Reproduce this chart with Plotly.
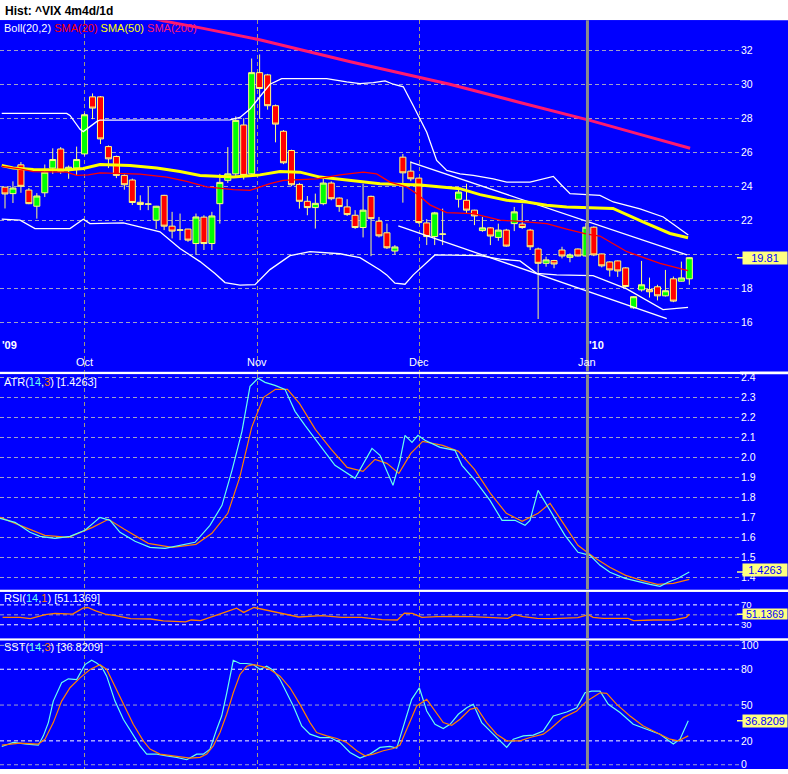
import plotly.graph_objects as go

# ---------------- data (trading-day index; 0 = 17 Sep 2009) ----------------
day = list(range(0, 56)) + list(range(57, 87))
open_ = [23.95, 23.57, 25.26, 23.78, 22.83, 23.62, 25.07, 26.19, 24.93, 25.07,
         25.90, 29.25, 29.25, 26.33, 25.75, 24.64, 24.37, 23.06, 22.95, 22.01,
         23.47, 21.66, 21.42, 21.49, 20.64, 22.19, 20.64, 22.98, 24.35, 24.73,
         27.60, 24.73, 30.67, 30.54, 28.73, 27.23, 26.10, 24.11, 23.12, 22.75,
         22.98, 24.19, 23.31, 22.79, 22.30, 21.58, 23.41, 21.95, 21.27, 20.20,
         25.71, 24.89, 24.48, 21.85, 21.05, 21.18, 23.24, 23.18, 22.60, 21.40,
         21.56, 21.00, 21.43, 21.81, 21.78, 21.43, 20.32, 19.48, 19.64, 20.26,
         19.83, 20.32, 19.91, 21.60, 20.03, 19.56, 19.62, 19.21, 16.87, 17.92,
         17.94, 18.10, 17.57, 18.57, 18.43, 18.57]
high = [23.95, 24.29, 25.42, 23.90, 23.60, 25.28, 26.23, 26.30, 25.22, 26.33,
        28.30, 29.45, 29.30, 26.40, 25.80, 24.70, 24.45, 23.47, 23.96, 22.85,
        23.50, 22.50, 22.40, 21.50, 22.40, 22.30, 22.50, 24.73, 26.30, 28.10,
        28.00, 31.50, 31.74, 30.60, 28.80, 27.30, 26.15, 24.20, 23.43, 23.57,
        24.44, 24.29, 23.35, 23.24, 22.60, 24.15, 23.45, 22.20, 21.81, 20.55,
        25.90, 25.46, 24.50, 22.07, 22.50, 22.69, 23.86, 24.15, 22.62, 22.20,
        21.60, 21.81, 21.50, 22.79, 22.98, 21.50, 20.40, 19.87, 19.68, 20.45,
        20.06, 20.35, 21.85, 21.65, 20.05, 19.60, 19.65, 19.25, 17.55, 19.62,
        18.64, 18.22, 19.09, 18.70, 19.58, 19.85]
low = [22.70, 23.02, 23.62, 22.95, 22.10, 23.37, 24.73, 24.73, 24.44, 24.64,
       25.80, 27.94, 26.48, 25.07, 24.48, 23.80, 22.90, 22.60, 22.60, 21.49,
       21.43, 20.94, 20.84, 20.74, 19.97, 20.26, 20.26, 21.81, 24.20, 24.60,
       24.40, 24.60, 27.99, 28.50, 26.58, 25.30, 24.00, 22.69, 22.30, 21.52,
       22.89, 23.18, 22.50, 22.26, 21.50, 21.00, 19.90, 21.00, 20.32, 20.00,
       23.04, 24.30, 21.80, 20.55, 20.55, 20.55, 22.75, 22.40, 21.72, 21.33,
       20.55, 20.80, 20.45, 21.37, 21.50, 20.26, 16.21, 19.28, 19.19, 19.77,
       19.54, 19.88, 19.88, 19.90, 19.24, 18.70, 18.68, 18.05, 16.81, 17.82,
       17.47, 17.30, 17.53, 17.20, 18.41, 18.22]
close = [23.55, 23.90, 24.00, 22.98, 23.43, 24.83, 25.57, 24.87, 25.12, 25.57,
         28.20, 28.59, 26.78, 25.61, 24.64, 24.09, 23.05, 22.93, 22.96, 22.83,
         21.66, 21.37, 21.44, 20.84, 22.20, 20.64, 22.26, 24.23, 24.73, 27.87,
         24.64, 30.67, 29.74, 28.73, 27.65, 25.38, 24.09, 23.12, 22.75, 23.00,
         24.19, 23.27, 22.81, 22.34, 21.58, 22.60, 22.10, 21.09, 20.39, 20.44,
         24.79, 24.44, 21.87, 21.05, 22.44, 21.20, 23.66, 22.60, 22.26, 21.56,
         21.08, 21.43, 20.49, 22.50, 21.58, 20.45, 19.48, 19.68, 19.44, 19.91,
         19.97, 19.91, 21.60, 19.97, 19.33, 19.09, 19.03, 18.12, 17.52, 18.22,
         17.81, 17.57, 17.87, 17.26, 18.62, 19.81]

sma20_x = [-0.41, 1.89, 3.56, 7.75, 9.01, 10.47, 11.94, 16.97, 20.32, 22.84, 25.35, 28.69,
           30.79, 33.30, 34.98, 39.17, 42.10, 45.03, 46.71, 48.39, 50.48, 51.74, 53.41,
           55.51, 58.85, 62.21, 65.56, 68.08, 70.59, 73.14, 74.77, 78.17, 82.32, 85.84]
sma20_v = [25.17, 25.02, 24.86, 24.83, 24.64, 24.67, 24.79, 24.72, 24.54, 24.29, 23.96, 23.80,
           23.76, 24.15, 24.35, 24.44, 24.67, 24.83, 24.73, 24.25, 23.96, 23.56, 22.91,
           22.46, 22.40, 22.01, 21.91, 21.81, 21.49, 21.19, 21.08, 20.16, 19.48, 19.05]
sma50_x = [-0.41, 1.04, 3.56, 7.75, 9.84, 11.94, 15.71, 19.07, 21.99, 24.51, 28.69, 32.05,
           34.56, 37.07, 39.59, 43.36, 47.13, 52.16, 53.83, 57.18, 59.70, 63.05, 65.56,
           68.08, 70.59, 74.79, 76.41, 80.18, 83.57, 85.84]
sma50_v = [25.22, 25.08, 24.99, 24.95, 25.05, 25.28, 25.22, 25.07, 24.87, 24.64, 24.54, 24.67,
           24.87, 24.83, 24.54, 24.35, 24.15, 24.07, 24.00, 23.86, 23.51, 23.18, 23.08,
           22.89, 22.79, 22.73, 22.70, 21.91, 21.23, 20.98]
sma200_x = [18.0, 19.86, 24.9, 32.0, 43.4, 55.9, 64.7, 73.5, 79.8, 86.1]
sma200_v = [33.95, 33.71, 33.27, 32.60, 31.31, 29.99, 28.92, 27.87, 27.05, 26.23]
bb_up_x = [-0.41, 7.75, 8.17, 8.8, 9.43, 9.84, 10.68, 11.56, 11.94, 16.97, 24.51, 28.28,
           29.53, 30.79, 32.05, 33.30, 34.77, 40.43, 42.94, 44.61, 46.29, 47.76, 48.80,
           50.06, 51.31, 53.00, 54.25, 55.51, 57.18, 58.85, 61.37, 63.05, 65.98, 68.91,
           69.96, 71.01, 73.10, 74.77, 76.45, 79.81, 82.73, 85.87]
bb_up_v = [28.28, 28.28, 28.16, 27.75, 27.34, 27.21, 27.52, 27.81, 27.89, 27.89, 27.89, 27.90,
           28.04, 28.53, 29.27, 29.99, 30.32, 30.32, 30.13, 30.03, 30.09, 30.19, 29.99,
           29.84, 28.73, 27.17, 25.52, 24.93, 24.73, 24.64, 24.44, 24.25, 24.25, 24.58,
           24.06, 23.57, 23.51, 23.47, 23.08, 22.67, 22.20, 21.14]
bb_lo_x = [-0.41, 1.89, 3.77, 8.17, 9.84, 10.68, 14.87, 16.12, 19.48, 21.99, 24.51, 26.39,
           27.65, 29.53, 31.42, 33.30, 35.82, 38.33, 42.10, 44.61, 45.87, 47.13, 47.97,
           49.01, 50.27, 51.31, 54.04, 59.70, 62.21, 64.72, 66.82, 69.33, 73.90, 78.13,
           82.69, 85.84]
bb_lo_v = [22.07, 22.01, 21.52, 21.52, 22.07, 21.81, 21.85, 21.72, 21.33, 20.35, 19.58, 18.88,
           18.35, 18.20, 18.23, 19.11, 19.93, 20.16, 20.04, 19.81, 19.46, 19.09, 18.80,
           18.31, 18.25, 18.80, 19.97, 19.93, 19.73, 19.62, 18.89, 18.80, 18.76, 17.98,
           16.76, 16.89]
trend_up_x = [50.96, 85.7]
trend_up_v = [25.42, 19.97]
trend_lo_x = [49.43, 83.16]
trend_lo_v = [21.68, 16.23]

atr_x = [-0.63, 1.26, 3.14, 4.4, 6.28, 8.17, 10.05, 11.94, 13.2, 14.45, 16.34, 18.22, 20.11,
         21.99, 23.88, 25.76, 27.27, 28.53, 29.78, 30.79, 31.80, 32.68, 33.93, 35.19, 36.45,
         37.70, 39.59, 41.47, 43.99, 45.24, 46.12, 47.13, 48.76, 49.64, 50.27, 51.15, 51.90,
         52.78, 54.67, 56.55, 57.43, 59.07, 60.95, 62.46, 64.09, 65.35, 65.98, 66.99, 68.49,
         70.37, 72.01, 73.52, 74.78, 76.03, 77.92, 79.81, 81.06, 82.32, 83.32, 84.58, 86.0]
atr_v = [1.695, 1.675, 1.625, 1.605, 1.595, 1.605, 1.635, 1.70, 1.685, 1.625, 1.58, 1.55, 1.545,
         1.56, 1.575, 1.66, 1.76, 1.935, 2.13, 2.355, 2.395, 2.375, 2.36, 2.34, 2.23,
         2.16, 2.06, 1.96, 1.895, 1.985, 2.045, 2.01, 1.86, 1.985, 2.11, 2.075, 2.11,
         2.085, 2.05, 2.035, 1.96, 1.885, 1.785, 1.685, 1.685, 1.66, 1.685, 1.835, 1.735,
         1.61, 1.525, 1.51, 1.46, 1.425, 1.395, 1.375, 1.365, 1.355, 1.375, 1.395, 1.4263]
atr_sig_x = [-0.6, 2, 5, 8, 11, 13, 15, 18, 21, 24, 26, 28, 29.5, 31, 32.5, 34, 35.5, 37, 39, 41,
             43, 45, 46.5, 48, 49.5, 51, 52.5, 55, 57, 59, 61, 63, 65, 67, 68.5, 70, 72, 74,
             76, 78, 80, 82, 84, 86]
atr_sig_v = [1.70, 1.66, 1.61, 1.60, 1.65, 1.69, 1.64, 1.57, 1.55, 1.565, 1.62, 1.72, 1.90,
             2.15, 2.30, 2.34, 2.34, 2.27, 2.14, 2.04, 1.95, 1.93, 1.99, 1.97, 1.92, 2.02,
             2.08, 2.06, 2.03, 1.94, 1.82, 1.72, 1.68, 1.72, 1.77, 1.68, 1.56, 1.50, 1.45,
             1.41, 1.385, 1.365, 1.37, 1.39]

rsi_x = [-0.3, 1.9, 3.2, 5.05, 6.3, 8.5, 9.8, 10.4, 11.4, 12.6, 13.9, 15.8, 18.3, 19.9, 22.7,
         23.4, 24.6, 25.9, 27.5, 29.1, 30.0, 31.3, 32.2, 33.8, 35.4, 36.9, 39.8, 42.3, 44.8,
         47.4, 49.3, 50.2, 51.2, 52.4, 54.3, 56.2, 58.7, 61.9, 63.2, 64.1, 65.1, 66.9, 68.8,
         72.0, 73.3, 73.9, 75.2, 78.3, 79.0, 81.5, 84.0, 85.6, 86.0]
rsi_v = [44.9, 44.9, 42.3, 50.2, 52.8, 51.5, 63.4, 64.7, 58.1, 51.5, 48.2, 42.3, 41.6, 37.7,
         35.7, 39.6, 38.3, 44.9, 54.2, 63.4, 54.8, 64.7, 61.4, 56.8, 50.2, 45.6, 48.2, 44.9,
         44.9, 40.3, 39.6, 53.5, 52.8, 44.9, 46.2, 46.9, 46.2, 44.9, 42.9, 50.2, 46.2, 42.9,
         42.3, 44.3, 50.2, 44.9, 42.9, 42.9, 38.3, 39.6, 39.6, 44.9, 51.14]

sstk_x = [-0.4, 1.05, 2.72, 4.19, 4.82, 5.45, 6.07, 7.12, 7.96, 9.01, 10.05, 10.89, 11.52,
          12.15, 12.78, 13.82, 14.87, 16.12, 16.97, 17.81, 19.07, 20.32, 21.58, 22.84, 24.09,
          24.92, 25.76, 26.61, 27.23, 27.86, 28.69, 29.53, 30.37, 31.21, 32.05, 32.89, 33.72,
          34.56, 35.40, 36.23, 37.29, 38.33, 39.59, 40.84, 42.10, 43.36, 44.61, 45.87, 47.13,
          48.39, 49.23, 49.64, 50.27, 51.11, 52.07, 53.0, 54.04, 55.08, 55.93, 56.97, 58.02,
          58.85, 59.91, 60.95, 62.0, 63.05, 63.88, 65.14, 66.39, 67.65, 68.91, 70.59, 71.85,
          72.89, 73.73, 74.78, 75.82, 77.29, 78.96, 80.64, 82.32, 83.99, 84.83, 85.87]
sstk_v = [15.3, 18.7, 17.3, 16.4, 24.2, 35.3, 53.3, 68.7, 72.0, 71.4, 83.9, 87.5, 85.3, 82.0,
          74.2, 53.3, 38.1, 24.2, 15.8, 8.9, 8.9, 7.5, 6.2, 4.2, 8.9, 8.9, 13.1, 29.8, 40.8,
          59.8, 87.5, 84.8, 84.8, 83.9, 79.8, 82.5, 79.2, 71.4, 60.3, 49.2, 32.5, 25.6, 22.8,
          22.8, 18.7, 10.3, 5.6, 8.9, 14.5, 15.3, 13.9, 22.8, 38.1, 54.8, 64.5, 45.0, 33.9,
          30.3, 33.9, 42.3, 47.8, 50.6, 35.3, 28.3, 21.4, 14.5, 21.4, 24.2, 24.8, 28.3, 40.8,
          44.2, 47.8, 60.3, 61.7, 61.7, 50.6, 43.7, 33.9, 29.8, 25.6, 17.3, 21.4, 36.82]
sstd_x = [-0.4, 1.89, 4.19, 5.03, 6.07, 7.12, 8.17, 9.43, 10.68, 11.94, 12.78, 13.82, 14.87,
          16.12, 17.38, 18.22, 19.48, 21.15, 21.99, 23.25, 24.51, 25.35, 26.18, 27.02, 27.86,
          28.69, 29.53, 30.37, 31.21, 32.46, 33.30, 34.56, 35.82, 37.07, 38.33, 39.17, 40.43,
          41.69, 42.94, 44.20, 45.24, 46.29, 47.54, 48.80, 49.64, 50.69, 51.74, 53.0, 54.04,
          55.08, 56.14, 57.18, 58.44, 59.28, 60.53, 61.79, 63.05, 64.72, 65.98, 67.65, 68.49,
          70.16, 71.85, 73.10, 74.78, 75.62, 76.88, 78.55, 80.22, 81.90, 83.57, 84.62, 85.87]
sstd_v = [16.4, 18.1, 17.3, 21.4, 35.3, 53.3, 64.5, 72.8, 79.8, 83.9, 79.8, 65.8, 50.6, 33.9,
          20.0, 13.1, 8.9, 7.5, 6.2, 5.6, 6.2, 8.9, 15.8, 27.0, 42.3, 60.3, 75.6, 82.5, 83.9,
          82.0, 79.8, 74.2, 64.5, 50.6, 35.3, 27.0, 24.2, 22.0, 18.7, 11.7, 7.5, 8.9, 11.7,
          13.6, 16.5, 32.5, 49.2, 54.8, 45.0, 35.3, 33.1, 38.1, 46.4, 47.8, 35.3, 25.6, 20.0,
          20.0, 22.8, 25.6, 29.8, 39.5, 45.0, 53.3, 60.3, 59.8, 50.6, 40.8, 32.5, 27.0, 21.4,
          20.0, 24.2]

month_pos = [9.96, 31.7, 52.05]
month_lbl = ["Oct", "Nov", "Dec"]
year_pos = 73.2
last_price, last_atr, last_rsi, last_sst = 19.81, 1.4263, 51.1369, 36.8209
price_ticks = [16, 18, 20, 22, 24, 26, 28, 30, 32]
price_ticktext = ["16", "18", "", "22", "24", "26", "28", "30", "32"]  # "20" hidden by last-price box
atr_ticks = [1.4, 1.5, 1.6, 1.7, 1.8, 1.9, 2.0, 2.1, 2.2, 2.3, 2.4]
rsi_ticks = [30, 70]
sst_ticks = [0, 20, 50, 80, 100]

# ---------------- style / layout ----------------
W, H = 788, 774
FONT = "Liberation Sans, Arial, sans-serif"
BLUE = "#0000FF"
HGRID = "#A0A0C8"
VGRID = "#A09A80"
CYAN = "#66FFEE"
ORANGE = "#FF8000"
TICKSZ = 10.5


def py(px):
    return 1 - px / H


PANELS = {
    "": (py(370.5), py(17.3)),
    "2": (py(589.5), py(373.3)),
    "3": (py(638.5), py(592.0)),
    "4": (py(770.0), py(641.0)),
}
XR = [-0.628, 92.37]
XDOM = [0, 740 / W]

fig = go.Figure()


def line(x, y, color, width, ax="", dash=None):
    fig.add_trace(go.Scatter(x=x, y=y, mode="lines", xaxis="x" + ax, yaxis="y" + ax,
                             line=dict(color=color, width=width, dash=dash),
                             hoverinfo="skip", showlegend=False))


# price panel
line(bb_up_x, bb_up_v, "white", 1.3)
line(bb_lo_x, bb_lo_v, "white", 1.3)
line(trend_up_x, trend_up_v, "white", 1.3)
line(trend_lo_x, trend_lo_v, "white", 1.3)
line(sma200_x, sma200_v, "#FF1A6E", 3)
line(sma50_x, sma50_v, "#FFFF00", 3)
line(sma20_x, sma20_v, "#FF0000", 1.3)
fig.add_trace(go.Candlestick(
    x=day, open=open_, high=high, low=low, close=close, xaxis="x", yaxis="y",
    increasing=dict(fillcolor="#00FF00", line=dict(color="#FFFF80", width=1)),
    decreasing=dict(fillcolor="#FF0000", line=dict(color="#FFFF80", width=1)),
    whiskerwidth=0, hoverinfo="skip", showlegend=False))
# ATR
line(atr_sig_x, atr_sig_v, ORANGE, 1.2, "2")
line(atr_x, atr_v, CYAN, 1.2, "2")
# RSI
line(rsi_x, rsi_v, ORANGE, 1.3, "3")
# SST
line(sstk_x, sstk_v, CYAN, 1.2, "4")
line(sstd_x, sstd_v, ORANGE, 1.2, "4")

layout = dict(width=W, height=H, margin=dict(l=0, r=0, t=0, b=0), autosize=False,
              paper_bgcolor="white", plot_bgcolor=BLUE, showlegend=False,
              boxgap=0.24, boxgroupgap=0, font=dict(family=FONT, color="white", size=11))

yspec = {
    "": dict(range=[18 + (287 - 370.5) / 17.125, 18 + (287 - 17.3) / 17.125], tickvals=price_ticks,
             ticktext=price_ticktext, showgrid=True),
    "2": dict(range=[1.4 + (577.3 - 589.5) / 201, 1.4 + (577.3 - 373.3) / 201], tickvals=atr_ticks,
              tickformat=".1f", showgrid=True),
    "3": dict(range=[3.0, 96.0], tickvals=rsi_ticks, showgrid=False,
              tickfont=dict(color="white", size=9.5, family=FONT)),
    "4": dict(range=[(765.7 - 770) / 1.2, (765.7 - 641) / 1.2], tickvals=sst_ticks, showgrid=False),
}
for k, (y0, y1) in PANELS.items():
    xa = dict(domain=XDOM, range=XR, anchor="y" + k, tickvals=month_pos, showticklabels=False,
              ticks="", showgrid=True, gridcolor=VGRID, griddash="4px,3px", gridwidth=1,
              zeroline=False, showline=False)
    if k == "":
        xa["rangeslider"] = dict(visible=False)
    else:
        xa["matches"] = "x"
    ya = dict(domain=[y0, y1], anchor="x" + k, side="right", ticks="", zeroline=False,
              showline=False, gridcolor=HGRID, griddash="4px,3px", gridwidth=1,
              tickfont=dict(color="white", size=TICKSZ, family=FONT))
    ya.update(yspec[k])
    layout["xaxis" + k] = xa
    layout["yaxis" + k] = ya

shapes = []
for k, (y0, y1) in PANELS.items():
    shapes.append(dict(type="rect", xref="paper", yref="paper", x0=0, x1=1, y0=y0, y1=y1,
                       fillcolor=BLUE, line=dict(width=0), layer="below"))
    shapes.append(dict(type="line", xref="x" + k, yref="y" + k + " domain", x0=year_pos,
                       x1=year_pos, y0=0, y1=1, line=dict(color="#8C8C8C", width=3),
                       layer="above"))
for lvl, col in [(70, "white"), (50, HGRID), (30, "white")]:
    shapes.append(dict(type="line", xref="x3 domain", yref="y3", x0=0, x1=1, y0=lvl, y1=lvl,
                       line=dict(color=col, width=1, dash="4px,3px"), layer="below"))
for lvl, col in [(100, HGRID), (80, "white"), (50, HGRID), (20, "white"), (0, HGRID)]:
    shapes.append(dict(type="line", xref="x4 domain", yref="y4", x0=0, x1=1, y0=lvl, y1=lvl,
                       line=dict(color=col, width=1, dash="4px,3px"), layer="below"))

ann = []
ann.append(dict(text="<b>Hist: ^VIX 4m4d/1d</b>", xref="paper", yref="paper", x=3 / W, y=py(8),
                xanchor="left", yanchor="middle", showarrow=False,
                font=dict(color="black", size=12, family=FONT)))
ann.append(dict(text="Boll(20,2) <span style='color:#FF0000'>SMA(20)</span> "
                     "<span style='color:#FFFF00'>SMA(50)</span> "
                     "<span style='color:#FF1A6E'>SMA(200)</span>",
                xref="paper", yref="paper", x=2 / W, y=py(25), xanchor="left", yanchor="middle",
                showarrow=False, font=dict(color="white", size=11, family=FONT)))


def sub_title(name, a, b, val, ypx):
    ann.append(dict(text=f"{name}(<span style='color:{CYAN}'>{a}</span>,"
                         f"<span style='color:{ORANGE}'>{b}</span>) [{val}]",
                    xref="paper", yref="paper", x=2 / W, y=py(ypx), xanchor="left",
                    yanchor="middle", showarrow=False,
                    font=dict(color="white", size=11, family=FONT)))


sub_title("ATR", 14, 3, f"{last_atr:.4f}", 381)
sub_title("RSI", 14, 1, f"{last_rsi:.4f}", 598)
sub_title("SST", 14, 3, f"{last_sst:.4f}", 647)

for pos, lbl in zip(month_pos + [year_pos], month_lbl + ["Jan"]):
    ann.append(dict(text=lbl, xref="x", yref="paper", x=pos, y=py(361), xanchor="center",
                    yanchor="middle", showarrow=False, font=dict(color="white", size=11, family=FONT)))
ann.append(dict(text="<b>'09</b>", xref="x", yref="paper", x=XR[0], y=py(344), xanchor="left",
                yanchor="middle", showarrow=False, font=dict(color="white", size=11, family=FONT)))
ann.append(dict(text="<b>'10</b>", xref="x", yref="paper", x=year_pos, y=py(344), xanchor="left",
                yanchor="middle", showarrow=False, font=dict(color="white", size=11, family=FONT)))

for k, val, txt, hh, fs, ys in [("", last_price, f"{last_price:.2f}", 12, 11, 0),
                                ("2", last_atr, f"{last_atr:.4f}", 12, 11, 2),
                                ("3", last_rsi, f"{last_rsi:.4f}", 10, 10.5, 0),
                                ("4", last_sst, f"{last_sst:.4f}", 12, 11, 0)]:
    ann.append(dict(text=txt, xref="paper", yref="y" + k, x=1, y=val, xanchor="right",
                    yanchor="middle", showarrow=False, bgcolor="#FFFF80", width=44, height=hh,
                    borderpad=0, yshift=ys, font=dict(color="#0000FF", size=fs, family=FONT)))
    shapes.append(dict(type="line", xref="paper", yref="y" + k, x0=737 / W, x1=744 / W,
                       y0=val, y1=val, line=dict(color="#FFFF80", width=1.5)))

layout["shapes"] = shapes
layout["annotations"] = ann
fig.update_layout(**layout)
fig.write_html("out.html")
